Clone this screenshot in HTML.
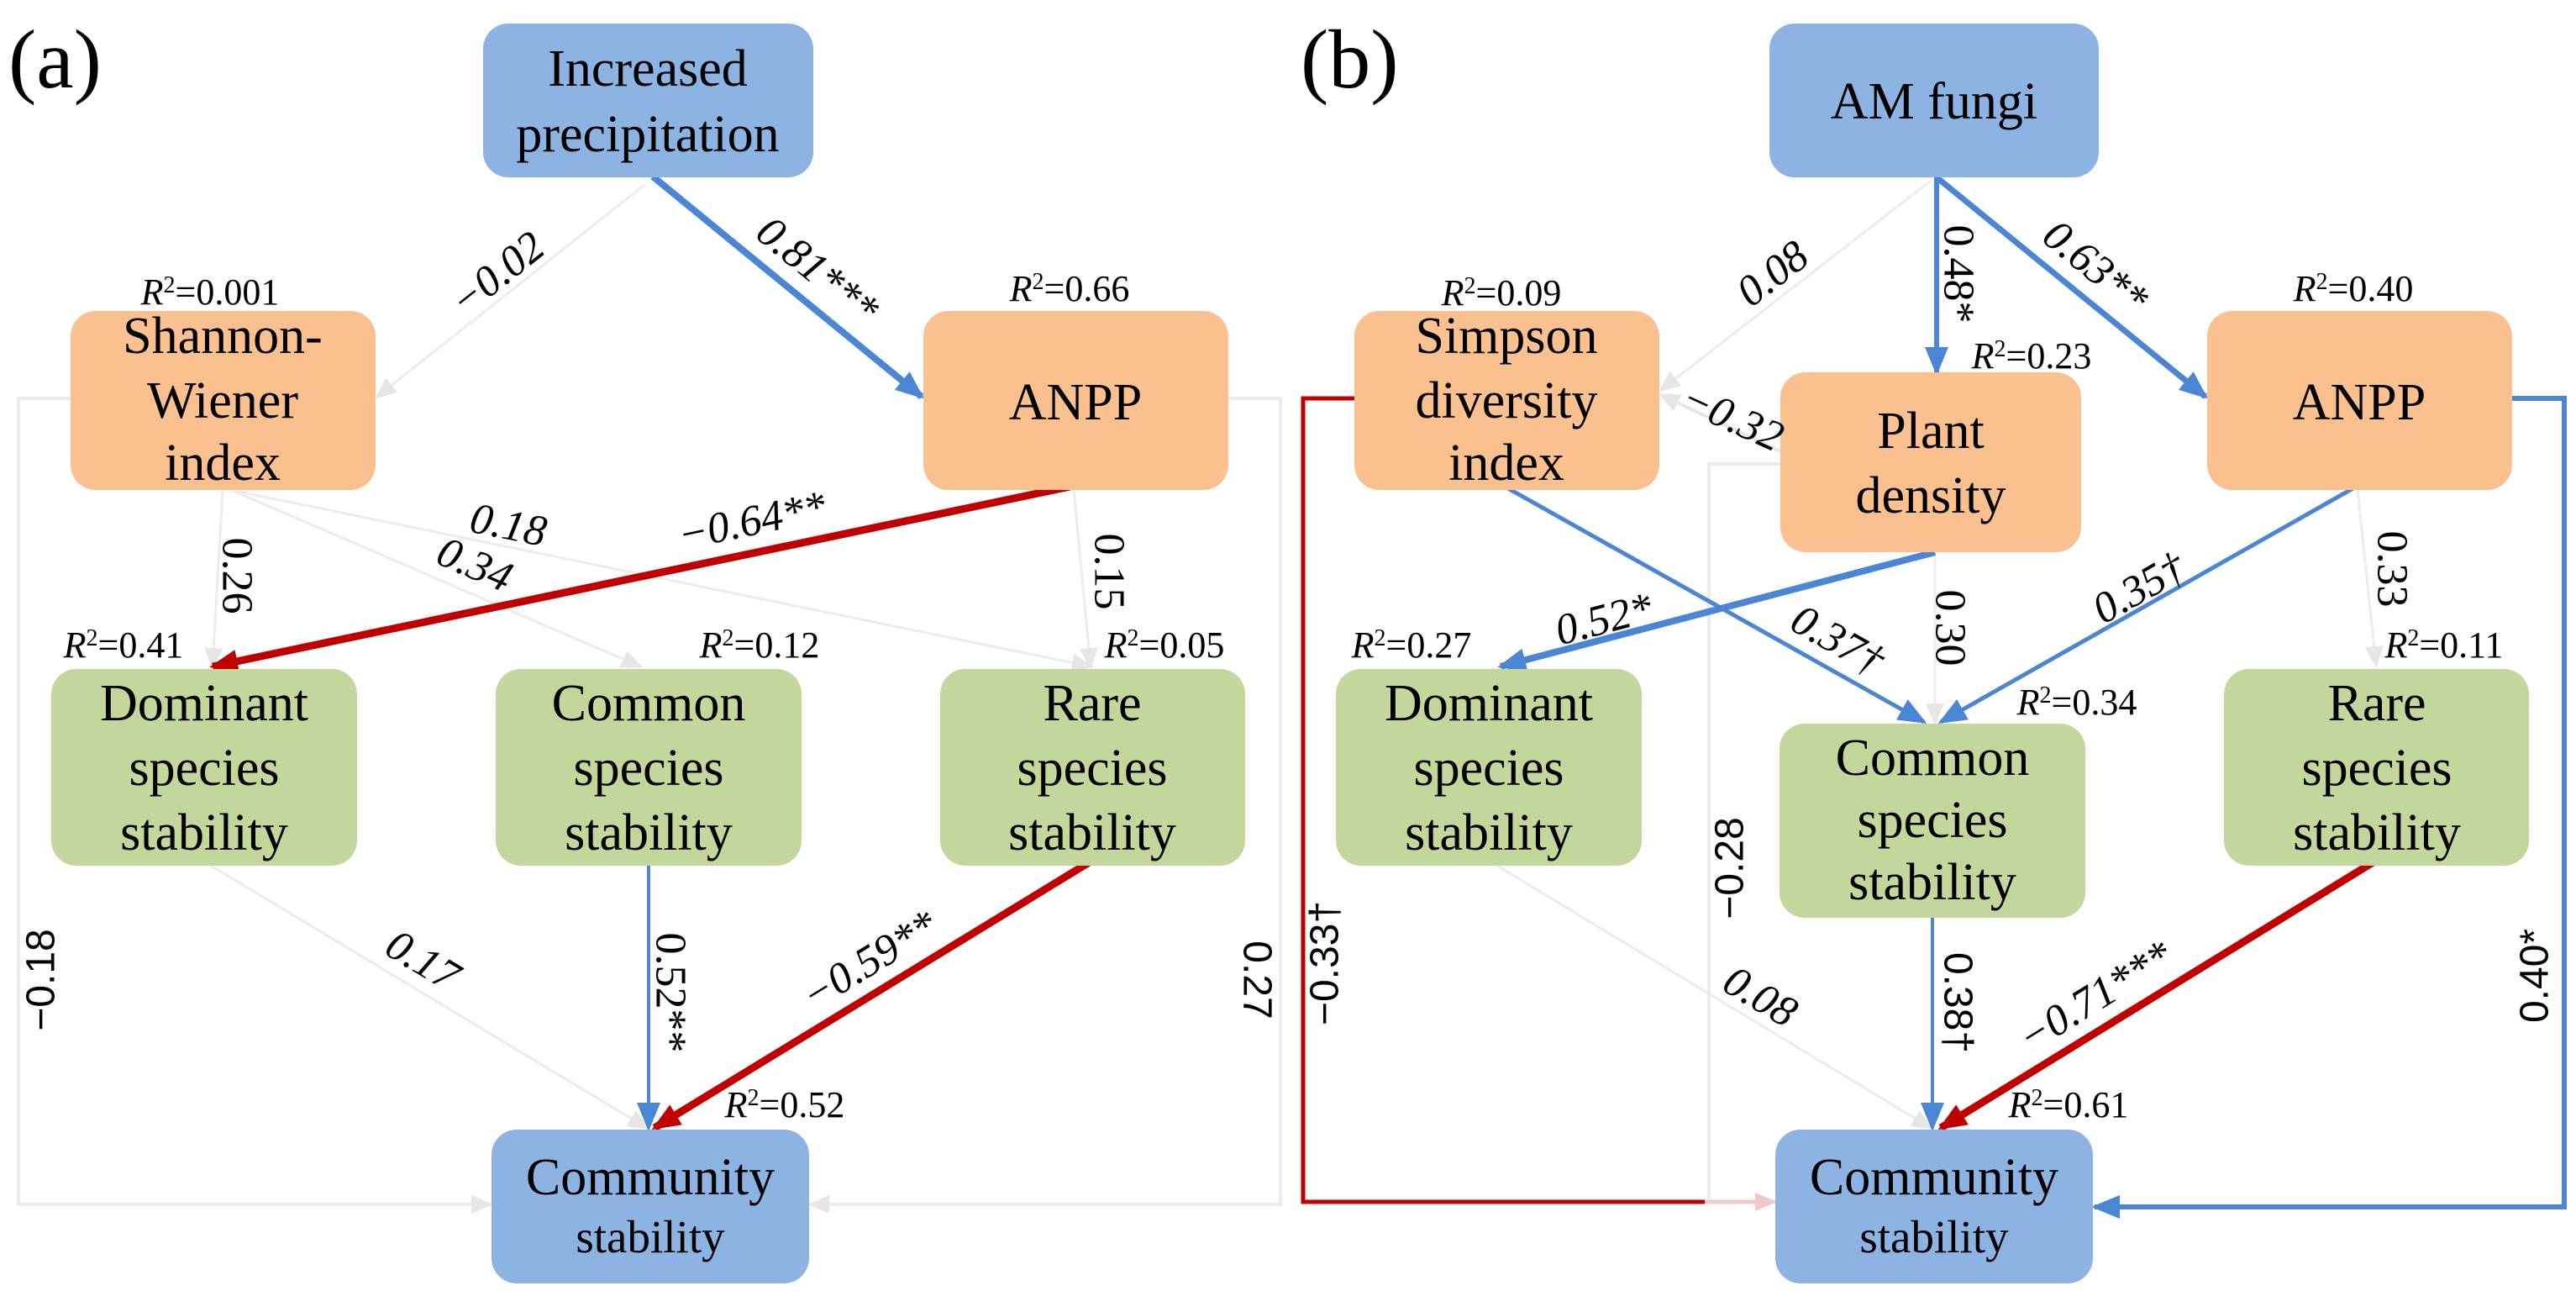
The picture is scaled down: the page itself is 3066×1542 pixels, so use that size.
<!DOCTYPE html>
<html><head><meta charset="utf-8"><style>
html,body{margin:0;padding:0;background:#fff;}
svg{display:block;font-family:"Liberation Serif","Times New Roman","DejaVu Serif",serif;}
text{font-family:"Liberation Serif","Times New Roman","DejaVu Serif",serif;fill:#000;}
.b{font-size:62px;text-anchor:middle;font-family:"Liberation Serif","Times New Roman",serif;}
.r{font-size:44px;text-anchor:middle;font-family:"Liberation Serif","Times New Roman",serif;}
.l{font-size:52px;text-anchor:middle;dominant-baseline:central;font-family:"Liberation Serif","Times New Roman",serif;}
.li{font-size:52px;text-anchor:middle;dominant-baseline:central;font-style:italic;font-family:"Liberation Serif","Times New Roman",serif;}
.s{font-family:"Liberation Sans",Arial,sans-serif;font-size:48px;text-anchor:middle;dominant-baseline:central;}
</style></head><body>
<svg width="3066" height="1542" viewBox="0 0 3066 1542" xmlns="http://www.w3.org/2000/svg" font-family="Liberation Serif, Times New Roman, serif">
<defs>
<marker id="mb" markerUnits="userSpaceOnUse" markerWidth="34" markerHeight="28" refX="30" refY="14" orient="auto"><path d="M0,0 L34,14 L0,28 Z" fill="#4A86D4"/></marker>
<marker id="mr" markerUnits="userSpaceOnUse" markerWidth="34" markerHeight="28" refX="30" refY="14" orient="auto"><path d="M0,0 L34,14 L0,28 Z" fill="#C00000"/></marker>
<marker id="mg" markerUnits="userSpaceOnUse" markerWidth="26" markerHeight="22" refX="22" refY="11" orient="auto"><path d="M0,0 L26,11 L0,22 Z" fill="#e6e6e6"/></marker>
<marker id="mp" markerUnits="userSpaceOnUse" markerWidth="26" markerHeight="22" refX="22" refY="11" orient="auto"><path d="M0,0 L26,11 L0,22 Z" fill="#f0c8c8"/></marker>
</defs>

<g fill="none" stroke-linecap="butt">
<polyline points="84,474 22,474 22,1433 583,1433" stroke="#ececec" stroke-width="4" marker-end="url(#mg)"/>
<polyline points="1462,474 1524,474 1524,1433 965,1433" stroke="#ececec" stroke-width="4" marker-end="url(#mg)"/>
<line x1="767" y1="220" x2="449" y2="472" stroke="#ececec" stroke-width="3" marker-end="url(#mg)"/>
<line x1="265" y1="583" x2="253" y2="793" stroke="#ececec" stroke-width="3" marker-end="url(#mg)"/>
<line x1="275" y1="583" x2="762" y2="793" stroke="#ececec" stroke-width="3" marker-end="url(#mg)"/>
<line x1="275" y1="583" x2="1298" y2="793" stroke="#ececec" stroke-width="3" marker-end="url(#mg)"/>
<line x1="1278" y1="583" x2="1298" y2="793" stroke="#ececec" stroke-width="3" marker-end="url(#mg)"/>
<line x1="251" y1="1030" x2="770" y2="1342" stroke="#ececec" stroke-width="3" marker-end="url(#mg)"/>
<line x1="777" y1="210" x2="1097" y2="472" stroke="#4A86D4" stroke-width="8" marker-end="url(#mb)"/>
<line x1="1278" y1="578" x2="253" y2="793" stroke="#C00000" stroke-width="9" marker-end="url(#mr)"/>
<line x1="772" y1="1028" x2="772" y2="1342" stroke="#4A86D4" stroke-width="4" marker-end="url(#mb)"/>
<line x1="1298" y1="1025" x2="779" y2="1342" stroke="#C00000" stroke-width="9" marker-end="url(#mr)"/>
</g>

<g fill="none">
<polyline points="2119,552 2034,552 2034,1430" stroke="#ececec" stroke-width="4"/>
<polyline points="1612,474 1551,474 1551,1430 2029,1430" stroke="#C00000" stroke-width="5"/>
<line x1="2029" y1="1430" x2="2111" y2="1430" stroke="#f0c8c8" stroke-width="5" marker-end="url(#mp)"/>
<polyline points="2990,474 3052,474 3052,1436 2493,1436" stroke="#4A86D4" stroke-width="6" marker-end="url(#mb)"/>
<line x1="2298" y1="215" x2="1977" y2="464" stroke="#ececec" stroke-width="3" marker-end="url(#mg)"/>
<line x1="2119" y1="537" x2="1977" y2="470" stroke="#e6e6e6" stroke-width="4" marker-end="url(#mg)"/>
<line x1="2303" y1="657" x2="2303" y2="859" stroke="#ececec" stroke-width="3" marker-end="url(#mg)"/>
<line x1="2806" y1="583" x2="2828" y2="791" stroke="#ececec" stroke-width="3" marker-end="url(#mg)"/>
<line x1="1782" y1="1030" x2="2298" y2="1342" stroke="#ececec" stroke-width="3" marker-end="url(#mg)"/>
<line x1="2305" y1="211" x2="2305" y2="443" stroke="#4A86D4" stroke-width="6" marker-end="url(#mb)"/>
<line x1="2305" y1="211" x2="2625" y2="472" stroke="#4A86D4" stroke-width="7" marker-end="url(#mb)"/>
<line x1="1793" y1="580" x2="2290" y2="859" stroke="#4A86D4" stroke-width="5" marker-end="url(#mb)"/>
<line x1="2806" y1="578" x2="2310" y2="859" stroke="#4A86D4" stroke-width="5" marker-end="url(#mb)"/>
<line x1="2303" y1="657" x2="1786" y2="793" stroke="#4A86D4" stroke-width="8" marker-end="url(#mb)"/>
<line x1="2300" y1="1092" x2="2300" y2="1342" stroke="#4A86D4" stroke-width="4" marker-end="url(#mb)"/>
<line x1="2826" y1="1025" x2="2310" y2="1342" stroke="#C00000" stroke-width="9" marker-end="url(#mr)"/>
</g>

<g>
<rect x="575" y="28" width="393" height="183" rx="30" fill="#8DB3E2"/>
<rect x="84" y="370" width="363" height="213" rx="30" fill="#FAC090"/>
<rect x="1099" y="370" width="363" height="213" rx="30" fill="#FAC090"/>
<rect x="61" y="796" width="364" height="234" rx="30" fill="#C3D69B"/>
<rect x="590" y="796" width="364" height="234" rx="30" fill="#C3D69B"/>
<rect x="1119" y="796" width="363" height="234" rx="30" fill="#C3D69B"/>
<rect x="585" y="1344" width="378" height="183" rx="30" fill="#8DB3E2"/>

<rect x="2106" y="28" width="392" height="183" rx="30" fill="#8DB3E2"/>
<rect x="1612" y="370" width="363" height="213" rx="30" fill="#FAC090"/>
<rect x="2119" y="443" width="358" height="214" rx="30" fill="#FAC090"/>
<rect x="2627" y="370" width="363" height="213" rx="30" fill="#FAC090"/>
<rect x="1590" y="796" width="364" height="234" rx="30" fill="#C3D69B"/>
<rect x="2118" y="861" width="364" height="231" rx="30" fill="#C3D69B"/>
<rect x="2647" y="796" width="363" height="234" rx="30" fill="#C3D69B"/>
<rect x="2113" y="1344" width="378" height="183" rx="30" fill="#8DB3E2"/>
</g>

<text x="10" y="104" style="font-size:100px">(a)</text>
<text x="1548" y="104" style="font-size:100px">(b)</text>

<text class="b" x="771" y="102">Increased</text>
<text class="b" x="771" y="180">precipitation</text>
<text class="b" x="265" y="420">Shannon-</text>
<text class="b" x="265" y="497">Wiener</text>
<text class="b" x="265" y="571">index</text>
<text class="b" x="1280" y="499">ANPP</text>
<text class="b" x="243" y="857">Dominant</text>
<text class="b" x="243" y="934">species</text>
<text class="b" x="243" y="1011">stability</text>
<text class="b" x="772" y="857">Common</text>
<text class="b" x="772" y="934">species</text>
<text class="b" x="772" y="1011">stability</text>
<text class="b" x="1300" y="857">Rare</text>
<text class="b" x="1300" y="934">species</text>
<text class="b" x="1300" y="1011">stability</text>
<text class="b" x="774" y="1421">Community</text>
<text class="b" x="774" y="1490" style="font-size:55px">stability</text>

<text class="b" x="2302" y="141">AM fungi</text>
<text class="b" x="1793" y="420">Simpson</text>
<text class="b" x="1793" y="497">diversity</text>
<text class="b" x="1793" y="571">index</text>
<text class="b" x="2298" y="533">Plant</text>
<text class="b" x="2298" y="610">density</text>
<text class="b" x="2808" y="499">ANPP</text>
<text class="b" x="1772" y="857">Dominant</text>
<text class="b" x="1772" y="934">species</text>
<text class="b" x="1772" y="1011">stability</text>
<text class="b" x="2300" y="922">Common</text>
<text class="b" x="2300" y="996">species</text>
<text class="b" x="2300" y="1070">stability</text>
<text class="b" x="2829" y="857">Rare</text>
<text class="b" x="2829" y="934">species</text>
<text class="b" x="2829" y="1011">stability</text>
<text class="b" x="2302" y="1421">Community</text>
<text class="b" x="2302" y="1490" style="font-size:55px">stability</text>

<text class="r" x="250" y="362"><tspan font-style="italic">R</tspan><tspan dy="-14" font-size="28">2</tspan><tspan dy="14">=0.001</tspan></text>
<text class="r" x="1273" y="358"><tspan font-style="italic">R</tspan><tspan dy="-14" font-size="28">2</tspan><tspan dy="14">=0.66</tspan></text>
<text class="r" x="147" y="782"><tspan font-style="italic">R</tspan><tspan dy="-14" font-size="28">2</tspan><tspan dy="14">=0.41</tspan></text>
<text class="r" x="904" y="782"><tspan font-style="italic">R</tspan><tspan dy="-14" font-size="28">2</tspan><tspan dy="14">=0.12</tspan></text>
<text class="r" x="1386" y="782"><tspan font-style="italic">R</tspan><tspan dy="-14" font-size="28">2</tspan><tspan dy="14">=0.05</tspan></text>
<text class="r" x="934" y="1329"><tspan font-style="italic">R</tspan><tspan dy="-14" font-size="28">2</tspan><tspan dy="14">=0.52</tspan></text>

<text class="r" x="1787" y="363"><tspan font-style="italic">R</tspan><tspan dy="-14" font-size="28">2</tspan><tspan dy="14">=0.09</tspan></text>
<text class="r" x="2418" y="438"><tspan font-style="italic">R</tspan><tspan dy="-14" font-size="28">2</tspan><tspan dy="14">=0.23</tspan></text>
<text class="r" x="2801" y="358"><tspan font-style="italic">R</tspan><tspan dy="-14" font-size="28">2</tspan><tspan dy="14">=0.40</tspan></text>
<text class="r" x="1680" y="782"><tspan font-style="italic">R</tspan><tspan dy="-14" font-size="28">2</tspan><tspan dy="14">=0.27</tspan></text>
<text class="r" x="2472" y="850"><tspan font-style="italic">R</tspan><tspan dy="-14" font-size="28">2</tspan><tspan dy="14">=0.34</tspan></text>
<text class="r" x="2909" y="782"><tspan font-style="italic">R</tspan><tspan dy="-14" font-size="28">2</tspan><tspan dy="14">=0.11</tspan></text>
<text class="r" x="2462" y="1329"><tspan font-style="italic">R</tspan><tspan dy="-14" font-size="28">2</tspan><tspan dy="14">=0.61</tspan></text>

<text class="li" transform="translate(973,322) rotate(39.3)">0.81***</text>
<text class="li" transform="translate(592,326) rotate(-38.4)">−0.02</text>
<text class="l" transform="translate(282,685) rotate(90)">0.26</text>
<text class="li" transform="translate(565,672) rotate(23.3)">0.34</text>
<text class="li" transform="translate(605,625) rotate(11.5)">0.18</text>
<text class="li" transform="translate(895,620) rotate(-11.8)">−0.64**</text>
<text class="l" transform="translate(1320,680) rotate(90)">0.15</text>
<text class="li" transform="translate(503,1143) rotate(31)">0.17</text>
<text class="l" transform="translate(798,1181) rotate(90)">0.52**</text>
<text class="li" transform="translate(1035,1143) rotate(-31.5)">−0.59**</text>
<text class="s" transform="translate(49,1166) rotate(-90)">−0.18</text>
<text class="s" transform="translate(1496,1166) rotate(90)">0.27</text>

<text class="l" transform="translate(2331,326) rotate(90)">0.48*</text>
<text class="li" transform="translate(2494,318) rotate(39.3)">0.63**</text>
<text class="li" transform="translate(2110,326) rotate(-37.6)">0.08</text>
<text class="li" transform="translate(2062,497) rotate(24.5)">−0.32</text>
<text class="li" transform="translate(1909,737) rotate(-14.7)">0.52*</text>
<text class="li" transform="translate(2187,762) rotate(29.5)">0.37†</text>
<text class="l" transform="translate(2321,747) rotate(90)">0.30</text>
<text class="li" transform="translate(2546,700) rotate(-29.7)">0.35†</text>
<text class="l" transform="translate(2847,677) rotate(90)">0.33</text>
<text class="s" transform="translate(1577,1146) rotate(-90)">−0.33†</text>
<text class="s" transform="translate(2059,1033) rotate(-90)">−0.28</text>
<text class="li" transform="translate(2095,1186) rotate(31)">0.08</text>
<text class="s" transform="translate(2330,1193) rotate(90)">0.38†</text>
<text class="li" transform="translate(2494,1186) rotate(-31.7)">−0.71***</text>
<text class="s" transform="translate(3017,1161) rotate(-90)">0.40*</text>
</svg>
</body></html>
